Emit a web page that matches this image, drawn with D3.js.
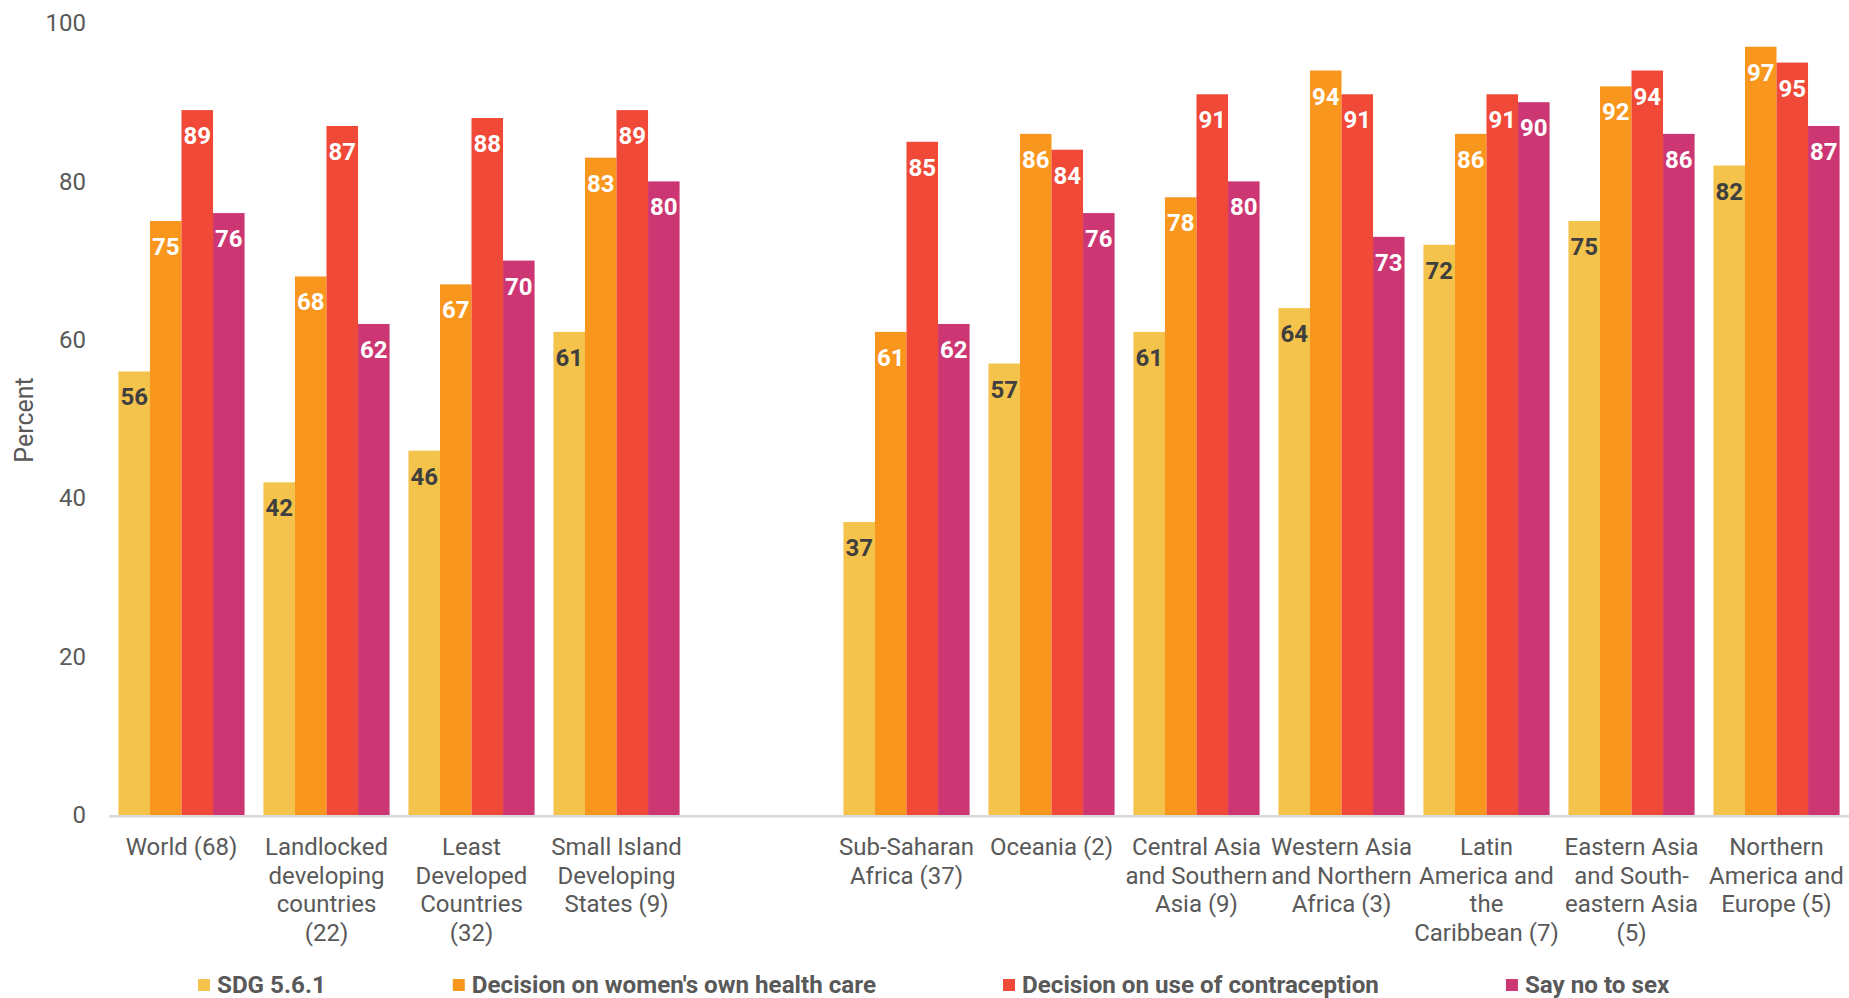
<!DOCTYPE html>
<html>
<head>
<meta charset="utf-8">
<script src="https://cdn.jsdelivr.net/npm/d3@7"></script>
<style>
  html, body { margin: 0; padding: 0; background: #ffffff; }
  svg { display: block; font-family: Roboto, "Noto Sans", sans-serif; }
</style>
</head>
<body>
<svg id="chart" width="1849" height="998"></svg>
<script>
// Region / group names (line breaks mark where the axis label wraps)
const categories = [
  "World (68)",
  "Landlocked\ndeveloping\ncountries\n(22)",
  "Least\nDeveloped\nCountries\n(32)",
  "Small Island\nDeveloping\nStates (9)",
  "Sub-Saharan\nAfrica (37)",
  "Oceania (2)",
  "Central Asia\nand Southern\nAsia (9)",
  "Western Asia\nand Northern\nAfrica (3)",
  "Latin\nAmerica and\nthe\nCaribbean (7)",
  "Eastern Asia\nand South-\neastern Asia\n(5)",
  "Northern\nAmerica and\nEurope (5)"
];

// Number of leading categories that form the first cluster (before the gap)
const firstClusterSize = 4;

const seriesNames = [
  "SDG 5.6.1",
  "Decision on women's own health care",
  "Decision on use of contraception",
  "Say no to sex"
];

const sdg561        = [56, 42, 46, 61, 37, 57, 61, 64, 72, 75, 82];
const healthCare    = [75, 68, 67, 83, 61, 86, 78, 94, 86, 92, 97];
const contraception = [89, 87, 88, 89, 85, 84, 91, 91, 91, 94, 95];
const sayNoToSex    = [76, 62, 70, 80, 62, 76, 80, 73, 90, 86, 87];

const yTicks = [0, 20, 40, 60, 80, 100];

const seriesValues = [sdg561, healthCare, contraception, sayNoToSex];
const seriesColors = ["#F4C34C", "#F8961D", "#F04937", "#CC3773"];
const labelColors  = ["#3F3F3F", "#FFFFFF", "#FFFFFF", "#FFFFFF"];

const svg = d3.select("#chart");

// Slot keys: the categories, with one empty slot separating the two clusters
const slotKeys = [];
categories.forEach((c, i) => {
  if (i === firstClusterSize) slotKeys.push("__gap__");
  slotKeys.push(c);
});

const x0 = d3.scaleBand()
  .domain(slotKeys)
  .range([109, 1849])
  .paddingInner(0.13)
  .paddingOuter(0.065);

const x1 = d3.scaleBand()
  .domain(d3.range(seriesNames.length))
  .range([0, x0.bandwidth()]);

const y = d3.scaleLinear().domain([0, 100]).range([815, 23]);

// Y tick labels
const yAxis = d3.axisLeft(y).tickValues(yTicks).tickSize(0).tickPadding(0);
const gy = svg.append("g").attr("transform", "translate(86,0)").call(yAxis);
gy.select(".domain").remove();
gy.selectAll("text")
  .attr("fill", "#595959")
  .style("font-size", "24px")
  .style("font-family", "Roboto, sans-serif");

// Y axis title
svg.append("text")
  .attr("transform", "translate(33,420) rotate(-90)")
  .attr("text-anchor", "middle")
  .attr("fill", "#595959")
  .style("font-size", "25px")
  .text("Percent");

// Bars
const rows = categories.map((c, i) => ({ key: c, values: seriesValues.map(s => s[i]) }));

const groups = svg.append("g").selectAll("g")
  .data(rows)
  .join("g")
  .attr("transform", d => `translate(${x0(d.key)},0)`);

groups.selectAll("rect")
  .data(d => d.values.map((v, k) => ({ v, k })))
  .join("rect")
  .attr("x", d => x1(d.k))
  .attr("y", d => y(d.v))
  .attr("width", x1.bandwidth())
  .attr("height", d => y(0) - y(d.v))
  .attr("fill", d => seriesColors[d.k]);

// Value labels inside the bars, near the top
groups.selectAll("text.val")
  .data(d => d.values.map((v, k) => ({ v, k })))
  .join("text")
  .attr("class", "val")
  .attr("x", d => x1(d.k) + x1.bandwidth() / 2)
  .attr("y", d => y(d.v) + 34)
  .attr("text-anchor", "middle")
  .attr("fill", d => labelColors[d.k])
  .style("font-size", "24px")
  .style("font-weight", "bold")
  .text(d => d.v);

// Baseline
svg.append("line")
  .attr("x1", 109).attr("x2", 1849)
  .attr("y1", 816.2).attr("y2", 816.2)
  .attr("stroke", "#D9D9D9")
  .attr("stroke-width", 2.5);

// Category labels (multi-line, centred under each group)
const catLabels = svg.append("g").selectAll("text")
  .data(categories)
  .join("text")
  .attr("x", d => x0(d) + x0.bandwidth() / 2)
  .attr("y", 855)
  .attr("text-anchor", "middle")
  .attr("fill", "#595959")
  .style("font-size", "24px");

catLabels.selectAll("tspan")
  .data(d => d.split("\n"))
  .join("tspan")
  .attr("x", function () { return d3.select(this.parentNode).attr("x"); })
  .attr("dy", (d, i) => i === 0 ? 0 : 28.7)
  .text(d => d);

// Legend
const legend = svg.append("g");
let lx = 198;
seriesNames.forEach((name, k) => {
  legend.append("rect")
    .attr("x", lx).attr("y", 979)
    .attr("width", 12).attr("height", 12)
    .attr("fill", seriesColors[k]);
  const t = legend.append("text")
    .attr("x", lx + 19).attr("y", 993)
    .attr("fill", "#595959")
    .style("font-size", "24.2px")
    .style("font-weight", "bold")
    .text(name);
  lx = lx + 19 + t.node().getComputedTextLength() + 127;
});
</script>
</body>
</html>
